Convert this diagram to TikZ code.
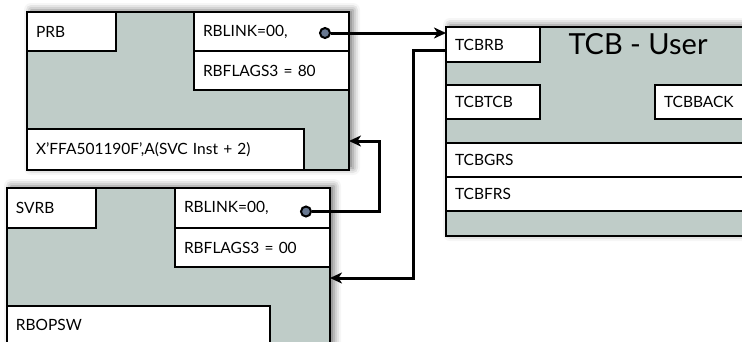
\documentclass[tikz,border=0pt]{standalone}
\usepackage{fontspec}
\setmainfont{Lato}
\usetikzlibrary{arrows.meta,positioning,shadows.blur}
\definecolor{blkgray}{RGB}{191,204,200}
\definecolor{dotblue}{RGB}{104,120,145}
\tikzset{
	x=1pt, y=-1pt,
	blk/.style = {draw, line width=2.2pt, fill=blkgray, anchor=north west, outer sep=0pt,
		blur shadow={shadow blur radius=7pt, shadow xshift=4pt, shadow yshift=2pt, shadow opacity=55}},
	fld/.style = {draw, line width=2.2pt, fill=white, outer sep=0pt, inner xsep=9pt, inner ysep=0pt,
		text width=#1, align=left, font=\fontsize{15.5}{18}\selectfont},
	link/.style = {line width=3pt, -{Stealth[length=12pt,width=11pt,inset=3.5pt]}},
	dot/.style = {draw, line width=2pt, circle, fill=dotblue, inner sep=0pt, minimum size=10pt}
}
\begin{document}
\begin{tikzpicture}
	\clip (0,0) rectangle (742,341);
	% PRB
	\node[blk, minimum width=322, minimum height=158] (prb) at (27,12) {};
	\node[fld=71, minimum height=39, below right=0pt and 0pt of prb.north west] (prblbl) {PRB};
	\node[fld=137, minimum height=39, below left=0pt and 0pt of prb.north east] (prblink) {RBLINK=00,};
	\node[fld=137, minimum height=39, below=0pt of prblink] (prbflags) {RBFLAGS3 = 80};
	\node[fld=259, minimum height=41, above right=0pt and 0pt of prb.south west] (prbinst) {X'FFA501190F',A(SVC Inst + 2)};
	\node[dot, left=18pt of prblink.east, yshift=-1.5pt] (prbdot) {};
	% SVRB
	\node[blk, minimum width=323, minimum height=200] (svrb) at (7,188) {};
	\node[fld=71, minimum height=40, below right=0pt and 0pt of svrb.north west] (svrblbl) {SVRB};
	\node[fld=137, minimum height=40, below left=0pt and 0pt of svrb.north east] (svrblink) {RBLINK=00,};
	\node[fld=137, minimum height=39, below=0pt of svrblink] (svrbflags) {RBFLAGS3 = 00};
	\node[fld=245, minimum height=38, anchor=north west] (rbopsw) at (7,306) {RBOPSW};
	\node[dot, left=18pt of svrblink.east, yshift=-3.5pt] (svrbdot) {};
	% TCB
	\node[blk, minimum width=330, minimum height=209] (tcb) at (446,27) {};
	\node[fld=76, minimum height=35, below right=0pt and 0pt of tcb.north west] (tcbrb) {TCBRB};
	\node[font=\fontsize{29}{32}\selectfont] (tcbtitle) at (638,44) {TCB - User};
	\node[fld=76, minimum height=34, anchor=north west] (tcbtcb) at (446,85) {TCBTCB};
	\node[fld=102, minimum height=34, anchor=north west] (tcbback) at (655,85) {TCBBACK};
	\node[fld=312, minimum height=34, anchor=north west] (tcbgrs) at (446,143) {TCBGRS};
	\node[fld=312, minimum height=34, below=0pt of tcbgrs] (tcbfrs) {TCBFRS};
	% links
	\coordinate (up) at (379,141);
	\coordinate (down) at (413,278);
	\draw[link] (prbdot) -- (prbdot -| tcb.west);
	\draw[link] (svrbdot) -| (up) -- (up -| prb.east);
	\draw[link] ([yshift=-5.5pt]tcbrb.west) -| (down) -- (down -| svrb.east);
\end{tikzpicture}
\end{document}
